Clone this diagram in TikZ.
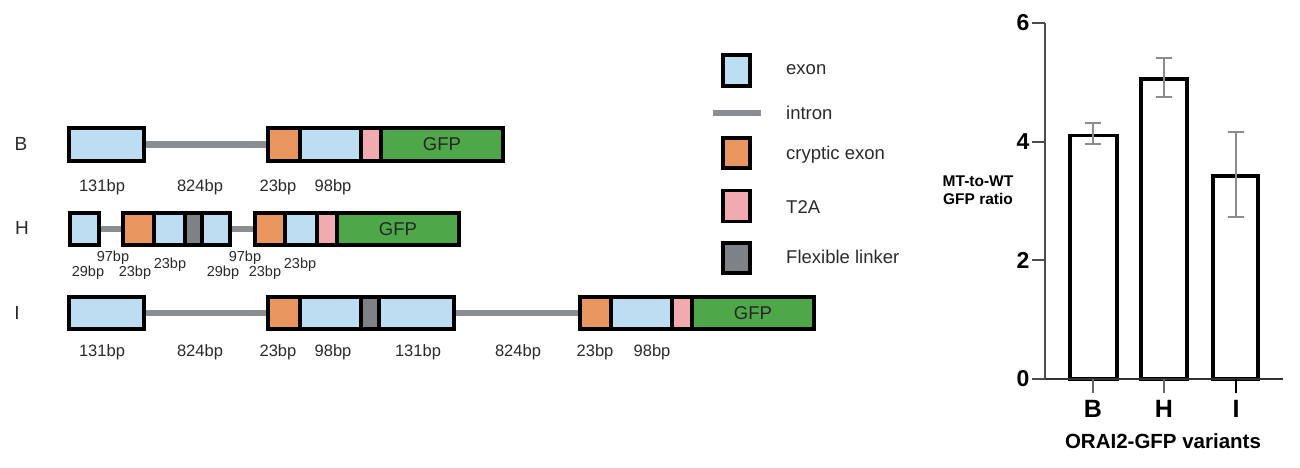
\documentclass[tikz,border=0pt]{standalone}
\usepackage{fontspec}
\setmainfont{Liberation Sans}
\usetikzlibrary{backgrounds}
\definecolor{exonc}{HTML}{BCDDF2}
\definecolor{crypc}{HTML}{E9955F}
\definecolor{t2ac}{HTML}{F0AAB0}
\definecolor{linkc}{HTML}{7E8287}
\definecolor{intronc}{HTML}{8A8E92}
\definecolor{gfpc}{HTML}{4EA84A}
\definecolor{txtc}{HTML}{2A2A2A}
\definecolor{errc}{HTML}{8C8C8C}
\tikzset{
  seg/.style={draw=black, line width=3.2pt, inner sep=0pt, outer sep=0pt},
  exonbox/.style={seg, fill=exonc},
  crypbox/.style={seg, fill=crypc},
  t2abox/.style={seg, fill=t2ac},
  linkbox/.style={seg, fill=linkc},
  gfpbox/.style={seg, fill=gfpc, font=\fontsize{18.5}{20}\selectfont, text=black!85},
  intron/.style={draw=intronc, line width=6.5pt},
  bplab/.style={font=\fontsize{16.5}{18}\selectfont, text=txtc, inner sep=0pt},
  smlab/.style={font=\fontsize{14.5}{16}\selectfont, text=txtc, inner sep=0pt},
  rowlab/.style={font=\fontsize{19}{21}\selectfont, text=txtc, inner sep=0pt},
  leglab/.style={font=\fontsize{18.5}{21}\selectfont, text=txtc, inner sep=0pt, anchor=west},
  bar/.style={draw=black, line width=3.6pt, fill=white},
  errbar/.style={draw=errc, line width=1.6pt},
  axis/.style={draw=black!80, line width=1.6pt},
  ticklab/.style={font=\bfseries\fontsize{23}{25}\selectfont, inner sep=0pt},
  catlab/.style={font=\bfseries\fontsize{25}{27}\selectfont, inner sep=0pt},
}
% \gbox{name}{style}{x1}{x2}{yc}{h}{text}
\newcommand\gbox[7]{\node[#2, minimum width={(#4-#3)*1pt}, minimum height={#6*1pt}] (#1) at ({(#3+#4)/2},#5) {#7};}
\begin{document}
\begin{tikzpicture}[x=1pt,y=-1pt]
\useasboundingbox (0,0) rectangle (1300,467);

% ---------- Row B ----------
\node[rowlab] (lB) at (21,144) {B};
\gbox{b1}{exonbox}{69}{144}{144.5}{33}{}
\gbox{b2}{crypbox}{268}{300}{144.5}{33}{}
\gbox{b3}{exonbox}{300}{361}{144.5}{33}{}
\gbox{b4}{t2abox}{361}{381}{144.5}{33}{}
\gbox{b5}{gfpbox}{381}{503}{144.5}{33}{GFP}
\begin{scope}[on background layer]
\draw[intron] (b1.east) -- (b2.west);
\end{scope}
\node[bplab] (bl1) at (102,187) {131bp};
\node[bplab] (bl2) at (200,187) {824bp};
\node[bplab] (bl3) at (278,187) {23bp};
\node[bplab] (bl4) at (333,187) {98bp};

% ---------- Row H ----------
\node[rowlab] (lH) at (22,228) {H};
\gbox{h1}{exonbox}{70}{99}{229}{32}{}
\gbox{h2}{crypbox}{123}{154}{229}{32}{}
\gbox{h3}{exonbox}{154}{185}{229}{32}{}
\gbox{h4}{linkbox}{185}{202}{229}{32}{}
\gbox{h5}{exonbox}{202}{230}{229}{32}{}
\gbox{h6}{crypbox}{255}{285}{229}{32}{}
\gbox{h7}{exonbox}{285}{317}{229}{32}{}
\gbox{h8}{t2abox}{317}{337}{229}{32}{}
\gbox{h9}{gfpbox}{337}{459}{229}{32}{GFP}
\begin{scope}[on background layer]
\draw[intron] (h1.east) -- (h2.west);
\draw[intron] (h5.east) -- (h6.west);
\end{scope}
\node[smlab] (hl1) at (113,258) {97bp};
\node[smlab] (hl2) at (88,273) {29bp};
\node[smlab] (hl3) at (135,273) {23bp};
\node[smlab] (hl4) at (170,265) {23bp};
\node[smlab] (hl5) at (245,258) {97bp};
\node[smlab] (hl6) at (223,273) {29bp};
\node[smlab] (hl7) at (265,273) {23bp};
\node[smlab] (hl8) at (300,265) {23bp};

% ---------- Row I ----------
\node[rowlab] (lI) at (17,313) {I};
\gbox{i1}{exonbox}{69}{144}{313}{32}{}
\gbox{i2}{crypbox}{268}{300}{313}{32}{}
\gbox{i3}{exonbox}{300}{361}{313}{32}{}
\gbox{i4}{linkbox}{361}{379}{313}{32}{}
\gbox{i5}{exonbox}{379}{454}{313}{32}{}
\gbox{i6}{crypbox}{580}{611}{313}{32}{}
\gbox{i7}{exonbox}{611}{672}{313}{32}{}
\gbox{i8}{t2abox}{672}{692}{313}{32}{}
\gbox{i9}{gfpbox}{692}{814}{313}{32}{GFP}
\begin{scope}[on background layer]
\draw[intron] (i1.east) -- (i2.west);
\draw[intron] (i5.east) -- (i6.west);
\end{scope}
\node[bplab] (il1) at (102,352) {131bp};
\node[bplab] (il2) at (200,352) {824bp};
\node[bplab] (il3) at (278,352) {23bp};
\node[bplab] (il4) at (333,352) {98bp};
\node[bplab] (il5) at (418,352) {131bp};
\node[bplab] (il6) at (518,352) {824bp};
\node[bplab] (il7) at (595,352) {23bp};
\node[bplab] (il8) at (652,352) {98bp};

% ---------- Legend ----------
\gbox{lg1}{exonbox}{723}{750}{70.5}{31}{}
\node[leglab] (lt1) at (786,70) {exon};
\coordinate (li1) at (713,113);
\coordinate (li2) at (761,113);
\draw[intron] (li1) -- (li2);
\node[leglab] (lt2) at (786,113) {intron};
\gbox{lg3}{crypbox}{723}{750}{153}{30}{}
\node[leglab] (lt3) at (786,155) {cryptic exon};
\gbox{lg4}{t2abox}{723}{750}{206}{31}{}
\node[leglab] (lt4) at (786,207) {T2A};
\gbox{lg5}{linkbox}{723}{750}{258}{30}{}
\node[leglab] (lt5) at (786,257) {Flexible linker};

% ---------- Bar chart ----------
% bars
\draw[bar] (1070,379) rectangle (1117,135.5);
\draw[bar] (1141,379) rectangle (1187,79);
\draw[bar] (1213,379) rectangle (1258,176);
% error bars
\draw[errbar] (1093,123) -- (1093,144);
\draw[errbar] (1085,123) -- (1101,123);
\draw[errbar] (1085,144) -- (1101,144);
\draw[errbar] (1164,58) -- (1164,97);
\draw[errbar] (1156,58) -- (1172,58);
\draw[errbar] (1156,97) -- (1172,97);
\draw[errbar] (1236,132) -- (1236,217);
\draw[errbar] (1228,132) -- (1244,132);
\draw[errbar] (1228,217) -- (1244,217);
% axes
\draw[axis, line width=1.4pt, draw=black!70] (1045,379) -- (1045,23);
\draw[axis, line width=2pt] (1045,379) -- (1283,379);
\foreach \v/\yy in {0/379,2/260,4/142,6/23}{
  \draw[axis, line width=1.4pt, draw=black!70] (1032,\yy) -- (1045,\yy);
  \node[ticklab] (t\v) at (1023,\yy) {\v};
}
\draw[axis, line width=1.6pt, draw=black!60] (1093,379) -- (1093,393);
\draw[axis, line width=1.6pt, draw=black!60] (1164,379) -- (1164,393);
\draw[axis, line width=2.2pt, draw=black] (1236,379) -- (1236,393);
\node[catlab] (cB) at (1093,409) {B};
\node[catlab] (cH) at (1164,409) {H};
\node[catlab] (cI) at (1236,409) {I};
\node[font=\bfseries\fontsize{20.5}{23}\selectfont, inner sep=0pt] (xl) at (1163,441) {ORAI2-GFP variants};
\node[font=\bfseries\fontsize{15.5}{17.5}\selectfont, align=center, inner sep=0pt] (yl) at (978,190) {MT-to-WT\\GFP ratio};
\end{tikzpicture}
\end{document}
